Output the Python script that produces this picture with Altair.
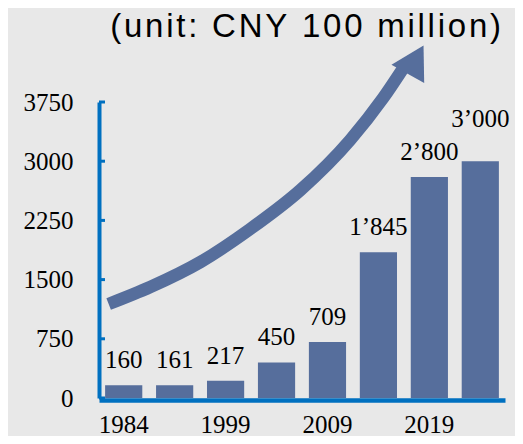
import altair as alt
import pandas as pd

# ---- data ----
years = ["1984", "1994", "1999", "2004", "2009", "2014", "2019", "2020"]
values = [160, 161, 217, 450, 709, 1845, 2800, 3000]
value_labels = ["160", "161", "217", "450", "709", "1\u2019845", "2\u2019800", "3\u2019000"]
shown_years = ["1984", "1999", "2009", "2019"]
y_ticks = [0, 750, 1500, 2250, 3000, 3750]
title_text = "(unit: CNY 100 million)"

# decorative growth arrow (in data units: x along an auxiliary 0-8 scale, y in CNY 100 million)
arrow_x = [0.19, 1.01, 2.00, 2.98, 3.97, 4.95, 5.60, 6.01]
arrow_y = [1191, 1406, 1723, 2141, 2635, 3269, 3801, 4193]
head_x = [6.24]
head_y = [4286]

BAR = "#566E9C"
AXIS = "#0070C0"
YDOM = [0, 3750]
SERIF = "Liberation Serif"
FS = 25

bars_df = pd.DataFrame({"year": years, "v": values, "lab": value_labels})
ticks_df = pd.DataFrame({"t": y_ticks})
arrow_df = pd.DataFrame({"ax": arrow_x, "ay": arrow_y})
head_df = pd.DataFrame({"ax": head_x, "ay": head_y})
title_df = pd.DataFrame({"txt": ["\u200a".join(title_text)]})

xband = alt.Scale(paddingInner=0.27, paddingOuter=0.12)
yscale = alt.Scale(domain=YDOM, nice=False, zero=True)

bars = alt.Chart(bars_df).mark_bar(color=BAR).encode(
    x=alt.X("year:N", sort=years, scale=xband, title=None,
            axis=alt.Axis(values=shown_years, labelAngle=0, ticks=False,
                          domainColor=AXIS, domainWidth=4.5, offset=2,
                          labelFont=SERIF, labelFontSize=FS,
                          labelColor="black", labelPadding=12, grid=False)),
    y=alt.Y("v:Q", scale=yscale, title=None,
            axis=alt.Axis(values=y_ticks, format="d", ticks=False,
                          domainColor=AXIS, domainWidth=4,
                          labelFont=SERIF, labelFontSize=FS,
                          labelColor="black", labelPadding=26, grid=False)),
)

labels = alt.Chart(bars_df).transform_filter(
    alt.datum.v < 3000
).mark_text(font=SERIF, fontSize=FS, color="black",
            baseline="alphabetic", dy=-17).encode(
    x=alt.X("year:N", sort=years, scale=xband),
    y=alt.Y("v:Q", scale=yscale),
    text="lab:N",
)

labels_top = alt.Chart(bars_df).transform_filter(
    alt.datum.v >= 3000
).mark_text(font=SERIF, fontSize=FS, color="black",
            baseline="alphabetic", dy=-34).encode(
    x=alt.X("year:N", sort=years, scale=xband),
    y=alt.Y("v:Q", scale=yscale),
    text="lab:N",
)

yticks = alt.Chart(ticks_df).mark_rule(color=AXIS, strokeWidth=3).encode(
    y=alt.Y("t:Q", scale=yscale),
    x=alt.value(0),
    x2=alt.value(6),
)

title_mark = alt.Chart(title_df).mark_text(
    font="Liberation Sans", fontSize=33, color="black",
    align="right", baseline="alphabetic").encode(
    text="txt:N",
    x=alt.value(402),
    y=alt.value(-65),
)

bar_group = alt.layer(bars, labels, labels_top, yticks, title_mark)

arrow = alt.Chart(arrow_df).mark_line(color=BAR, strokeWidth=12.5,
                                      interpolate="monotone", strokeCap="butt").encode(
    x=alt.X("ax:Q", scale=alt.Scale(domain=[0, 8], nice=False), axis=None),
    y=alt.Y("ay:Q", scale=yscale),
)

head = alt.Chart(head_df).mark_point(shape="triangle-up", filled=True, opacity=1,
                                     color=BAR, size=1400, angle=29).encode(
    x=alt.X("ax:Q", scale=alt.Scale(domain=[0, 8], nice=False), axis=None),
    y=alt.Y("ay:Q", scale=yscale),
)

arrow_group = alt.layer(arrow, head)

chart = alt.layer(bar_group, arrow_group).resolve_scale(x="independent").properties(
    width=406,
    height=296,
    autosize=alt.AutoSizeParams(type="none"),
    padding={"left": 91, "top": 94, "right": 10, "bottom": 38},
    background="#E8E8E8",
).configure_view(stroke=None)

chart.save("out.html", embed_options={"renderer": "svg", "actions": False})
